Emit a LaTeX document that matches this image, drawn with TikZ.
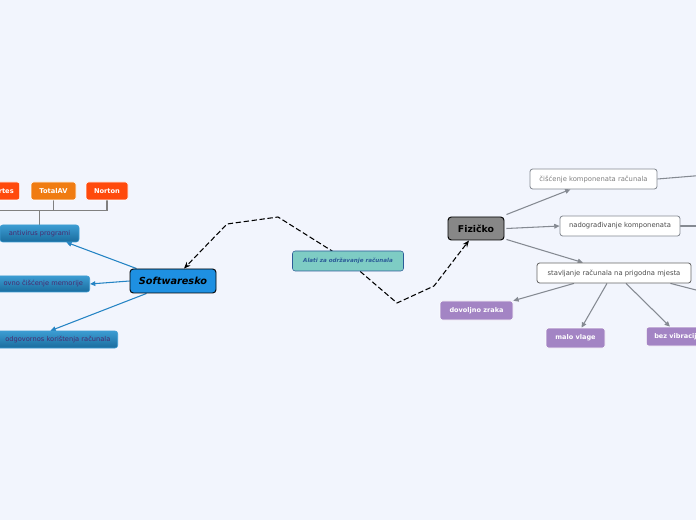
\documentclass[tikz,border=0pt]{standalone}
\usepackage{fontspec}
\setmainfont{DejaVu Sans}
\usetikzlibrary{arrows.meta, calc, positioning}
\usepackage{xcolor}
\definecolor{paper}{HTML}{F2F5FD}
\definecolor{hubfill}{HTML}{7ECCC4}
\definecolor{hubline}{HTML}{2C5C98}
\definecolor{softblue}{HTML}{1E90E2}
\definecolor{leafhi}{HTML}{3C9CD2}
\definecolor{leaflo}{HTML}{1A6C9E}
\definecolor{leaftext}{HTML}{4A2A6E}
\definecolor{edgeblue}{HTML}{2584C4}
\definecolor{fizgray}{HTML}{878787}
\definecolor{edgegray}{HTML}{858A92}
\definecolor{plum}{HTML}{A384C4}
\definecolor{avred}{HTML}{FF4A0C}
\definecolor{avorange}{HTML}{F07C12}
\pgfdeclarelayer{paperlayer}
\pgfdeclarelayer{edges}
\pgfsetlayers{paperlayer,edges,main}

\begin{document}
\begin{tikzpicture}[x=0.75pt, y=-0.75pt,
  hub/.style={draw=hubline, fill=hubfill, rounded corners=2pt, text=hubline,
    font=\fontsize{4.2}{5}\selectfont\bfseries\itshape, inner sep=0pt},
  soft/.style={draw=black, fill=softblue, rounded corners=2.5pt, line width=0.7pt,
    font=\fontsize{7.3}{8}\selectfont\bfseries\itshape, inner sep=0pt},
  fiz/.style={draw=black, fill=fizgray, rounded corners=2.5pt, line width=0.7pt,
    font=\fontsize{7}{8}\selectfont\bfseries, inner sep=0pt},
  leaf/.style={top color=leafhi, bottom color=leaflo, draw=leafhi, rounded corners=2pt,
    text=leaftext, font=\fontsize{5}{6}\selectfont, inner sep=0pt},
  plain/.style={draw=edgegray, fill=white, rounded corners=2pt, line width=0.6pt,
    text=black!70, font=\fontsize{5.1}{6}\selectfont, inner sep=0pt},
  lilac/.style={draw=white, fill=plum, rounded corners=2pt, text=white,
    font=\fontsize{4.9}{6}\selectfont\bfseries, inner sep=0pt},
  brand/.style={draw=white, rounded corners=2pt, text=white,
    font=\fontsize{5}{6}\selectfont\bfseries, inner sep=0pt},
  trail/.style={black, dashed, dash pattern=on 4pt off 2pt, line width=0.8pt,
    -{Stealth[length=5pt, width=4pt]}},
  bluearrow/.style={edgeblue, line width=0.8pt, -{Triangle[length=4pt, width=3.5pt]}},
  grayarrow/.style={edgegray, line width=0.8pt, -{Triangle[length=4pt, width=3.5pt]}},
  grayline/.style={edgegray, line width=0.8pt},
  treeline/.style={gray, line width=0.8pt}]

  % page
  \useasboundingbox (0,0) rectangle (696,520);
  \clip (0,0) rectangle (696,520);
  \begin{pgfonlayer}{paperlayer}
    \fill[paper] (0,0) rectangle (696,520);
  \end{pgfonlayer}

  % centre
  \node[hub, minimum width=111*0.75pt, minimum height=20*0.75pt] (alati) at (348,261) {Alati za održavanje računala};

  % software branch
  \node[soft, minimum width=86*0.75pt, minimum height=24*0.75pt] (softw) at (173,281) {Softwaresko};
  \node[leaf, minimum width=79*0.75pt, minimum height=17*0.75pt] (antiv) at (39.5,233.5) {antivirus programi};
  \node[leaf, anchor=east, text width=115*0.75pt, align=right, minimum height=16*0.75pt,
    inner xsep=5pt] (memor) at (90,284) {ovno čišćenje memorije};
  \node[leaf, anchor=east, text width=140*0.75pt, align=right, minimum height=17*0.75pt,
    inner xsep=5.5pt] (odgov) at (118,339.5) {odgovornos korištenja računala};
  \node[brand, fill=avred, anchor=east, text width=40*0.75pt, align=right, minimum height=18*0.75pt,
    inner xsep=4.5pt] (rtes) at (20,191) {rtes};
  \node[brand, fill=avorange, minimum width=45*0.75pt, minimum height=18*0.75pt] (totalav) at (53.5,191) {TotalAV};
  \node[brand, fill=avred, minimum width=42*0.75pt, minimum height=18*0.75pt] (norton) at (107,191) {Norton};

  % hardware branch
  \node[fiz, minimum width=56*0.75pt, minimum height=23*0.75pt] (fizicko) at (476,228.5) {Fizičko};
  \node[plain, text=black!50, minimum width=127*0.75pt, minimum height=20*0.75pt] (cisc) at (593.5,179) {čišćenje komponenata računala};
  \node[plain, minimum width=120*0.75pt, minimum height=20*0.75pt] (nadog) at (620,226) {nadograđivanje komponenata};
  \node[plain, draw=black!60, minimum width=154*0.75pt, minimum height=20*0.75pt] (stav) at (614,273) {stavljanje računala na prigodna mjesta};
  \node[lilac, minimum width=73*0.75pt, minimum height=19*0.75pt] (zrak) at (476.5,310.5) {dovoljno zraka};
  \node[lilac, minimum width=59*0.75pt, minimum height=20*0.75pt] (vlaga) at (575.5,338) {malo vlage};
  \node[lilac, anchor=west, minimum height=19*0.75pt, inner xsep=6pt] (vibr) at (646,336.5) {bez vibracija};

  % off-page ends
  \coordinate (out1) at (700,175.5);
  \coordinate (out2) at (700,226);
  \coordinate (out3) at (700,291);

  \begin{pgfonlayer}{edges}
    % dashed trails
    \draw[trail] (alati.center) -- (278,217) -- (227,224) -- ($(softw.north)+(11,0)$);
    \draw[trail] (alati.center) -- (397,303) -- (434,286) -- ($(fizicko.south)+(-7,0)$);

    % software arrows
    \draw[bluearrow] ($(softw.north west)+(7,0)$) -- ($(antiv.south east)+(-13,0)$);
    \draw[bluearrow] (softw.west) -- (memor.east);
    \draw[bluearrow] ($(softw.south west)+(17,0)$) -- ($(odgov.north)+(10,0)$);

    % antivirus tree
    \draw[treeline] (antiv.north) -- ++(0,-14) coordinate (fork);
    \draw[treeline] (rtes.south) |- (fork) -| (totalav.south);
    \draw[treeline] (fork) -| (norton.south);

    % hardware arrows
    \draw[grayarrow] ($(fizicko.north east)+(2,-2)$) -- ($(cisc.south)+(-23,0)$);
    \draw[grayarrow] ($(fizicko.east)+(2,0)$) -- (nadog.west);
    \draw[grayarrow] ($(fizicko.south east)+(2,-1)$) -- ($(stav.north)+(-31,0)$);
    \draw[grayarrow] ($(stav.south)+(-40,0)$) -- (zrak.north east);
    \draw[grayarrow] ($(stav.south)+(-7,0)$) -- ($(vlaga.north)+(6,0)$);
    \draw[grayarrow] ($(stav.south)+(12,0)$) -- ($(vibr.north west)+(24,0)$);
    \draw[grayline] (cisc.east) -- (out1);
    \draw[grayline] (nadog.east) -- (out2);
    \draw[grayline] ($(stav.south east)+(-21,0)$) -- (out3);
  \end{pgfonlayer}
\end{tikzpicture}
\end{document}
